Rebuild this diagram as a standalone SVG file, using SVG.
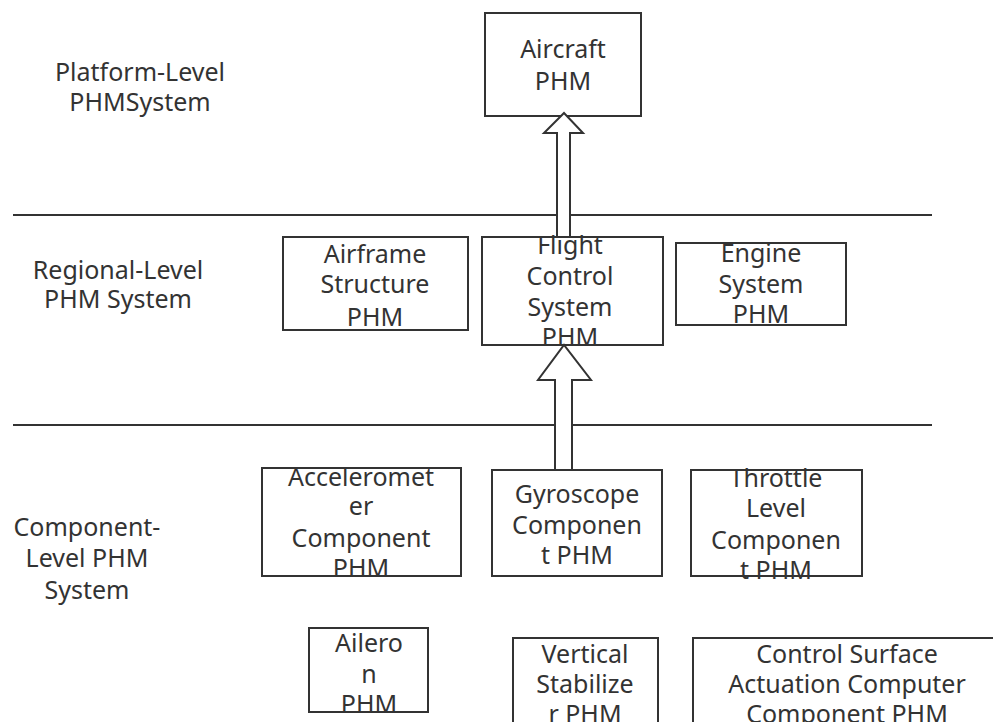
<svg xmlns="http://www.w3.org/2000/svg" width="993" height="722" viewBox="0 0 993 722">
<style>
.bx{fill:#fff;stroke:#333;stroke-width:2}
.ln{stroke:#333;stroke-width:2}
.ar{fill:#fff;stroke:#333;stroke-width:2;stroke-linejoin:miter}
text{font-family:"Noto Sans","Open Sans","Liberation Sans",sans-serif;font-size:25px;fill:#333;text-anchor:middle}
</style>
<rect width="993" height="722" fill="#fff"/>
<g id="dividers">
<line class="ln" x1="13" y1="215" x2="932" y2="215"/>
<line class="ln" x1="13" y1="425" x2="932" y2="425"/>
</g>
<g id="level-labels">
<text x="140" y="81">Platform-Level</text>
<text x="140" y="111">PHMSystem</text>
<text x="118" y="279">Regional-Level</text>
<text x="118" y="308">PHM System</text>
<text x="87" y="536">Component-</text>
<text x="87" y="567">Level PHM</text>
<text x="87" y="599">System</text>
</g>
<g id="aircraft"><rect class="bx" x="485" y="13" width="156" height="103"/><text x="563" y="58">Aircraft</text><text x="563" y="90">PHM</text></g>
<g id="airframe"><rect class="bx" x="283" y="237" width="185" height="93"/><text x="375" y="263">Airframe</text><text x="375" y="293">Structure</text><text x="375" y="326">PHM</text></g>
<g id="flight"><rect class="bx" x="482" y="237" width="181" height="108"/><text x="570" y="254">Flight</text><text x="570" y="285">Control</text><text x="570" y="316">System</text><text x="570" y="346">PHM</text></g>
<g id="engine"><rect class="bx" x="676" y="243" width="170" height="82"/><text x="761" y="262">Engine</text><text x="761" y="293">System</text><text x="761" y="323">PHM</text></g>
<g id="accelerometer"><rect class="bx" x="262" y="468" width="199" height="108"/><text x="361" y="486">Acceleromet</text><text x="361" y="515">er</text><text x="361" y="547">Component</text><text x="361" y="577">PHM</text></g>
<g id="gyroscope"><rect class="bx" x="492" y="470" width="170" height="106"/><text x="577" y="503">Gyroscope</text><text x="577" y="534">Componen</text><text x="577" y="564">t PHM</text></g>
<g id="throttle"><rect class="bx" x="691" y="470" width="171" height="106"/><text x="776" y="487">Throttle</text><text x="776" y="517">Level</text><text x="776" y="549">Componen</text><text x="776" y="579">t PHM</text></g>
<g id="aileron"><rect class="bx" x="309" y="628" width="119" height="84"/><text x="369" y="652">Ailero</text><text x="369" y="683">n</text><text x="369" y="713">PHM</text></g>
<g id="vertical"><rect class="bx" x="513" y="638" width="145" height="90"/><text x="585" y="663">Vertical</text><text x="585" y="693">Stabilize</text><text x="585" y="723">r PHM</text></g>
<g id="control-surface"><rect class="bx" x="693" y="638" width="310" height="90"/><text x="847" y="663">Control Surface</text><text x="847" y="693">Actuation Computer</text><text x="847" y="723">Component PHM</text></g>
<g id="connectors">
<polygon class="ar" points="557,237 557,133 544,133 564,113 583,133 570,133 570,237"/>
<polygon class="ar" points="555,470 555,380 538,380 564,345 591,380 572,380 572,470"/>
</g>
</svg>
